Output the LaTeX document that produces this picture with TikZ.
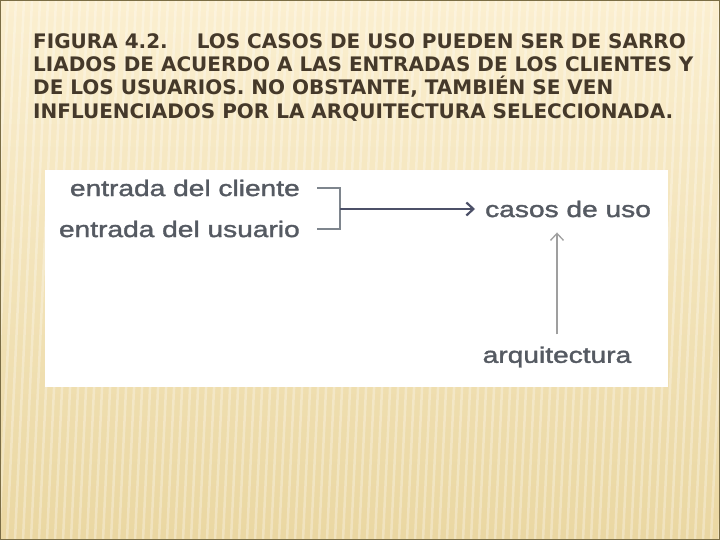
\documentclass[tikz,border=0pt]{standalone}
\usepackage{fontspec}
\setmainfont{DejaVu Sans}
\newfontfamily\figfont[FakeStretch=1.25,FakeBold=1.6]{Liberation Sans}
\usepackage{xcolor}
\usetikzlibrary{arrows.meta, positioning}

\definecolor{titulo}{HTML}{45392A}
\definecolor{fondoalto}{HTML}{FBEFD0}
\definecolor{fondobajo}{HTML}{EAD7A2}
\definecolor{marco}{HTML}{7A6D45}
\definecolor{figgris}{HTML}{555A62}
\definecolor{corchete}{HTML}{5E6670}
\definecolor{flecha}{HTML}{4C5068}

\tikzset{
  etiqueta/.style={inner sep=0pt, text=figgris, font=\figfont\fontsize{22.5}{24}\selectfont},
}

\begin{document}
\begin{tikzpicture}[x=1pt,y=-1pt,>={Straight Barb[length=7pt,width=13pt]}]
    \useasboundingbox (0,0) rectangle (720,540);

    %%%% fondo
    \fill [top color=fondoalto, bottom color=fondobajo] (0,0) rectangle (720,540);
    \foreach \i in {0,8,...,780} \draw [white,opacity=.3,line width=2.5pt] (\i,0) -- (\i-25,540);
    \draw [color=marco,line width=2pt] (0,0) rectangle (720,540);

    %%%% titulo
    \node (tit) at (33,33) [anchor=north west,inner sep=0pt,align=left,text=titulo,
      font=\fontsize{20}{23.4}\selectfont\bfseries]
      {FIGURA 4.2.\hspace{29pt}LOS CASOS DE USO PUEDEN SER DE SARRO\\
       LIADOS DE ACUERDO A LAS ENTRADAS DE LOS CLIENTES Y\\
       DE LOS USUARIOS. NO OBSTANTE, TAMBIÉN SE VEN\\
       INFLUENCIADOS POR LA ARQUITECTURA SELECCIONADA.}; %

    %%%% figura
    \fill [white] (45,170) rectangle (668,387);
    \node (cliente) at (300,188) [anchor=east,etiqueta] {entrada del cliente}; %
    \node (usuario) at (300,229) [anchor=east,etiqueta] {entrada del usuario}; %
    \coordinate (brk) at (340,209);
    \node (casos) at (485,209) [anchor=west,etiqueta] {casos de uso}; %
    \node (arq) at (557,357) [etiqueta] {arquitectura}; %

    %%%% flechas
    \draw [color=corchete!80,line width=2pt] ([xshift=17pt]cliente.east) -| (brk); %
    \draw [color=corchete!80,line width=2pt] ([xshift=17pt]usuario.east) -| (brk); %
    \draw [color=flecha,line width=2.2pt,->,shorten >=10pt] (brk) -- (casos.west); %
    \draw [color=gray!75,line width=1.3pt,->,shorten <=12pt,shorten >=15pt] (arq.north) -- (arq.north |- casos.south); %
\end{tikzpicture}
\end{document}
